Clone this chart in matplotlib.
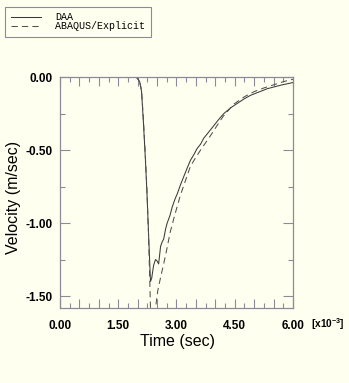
import matplotlib
matplotlib.use("Agg")
import matplotlib.pyplot as plt
from matplotlib.ticker import MultipleLocator, FuncFormatter

# Time in units of 1e-3 s, velocity in m/s
daa_t = [0, 1.5, 1.9, 1.98, 2.05, 2.1, 2.15, 2.2, 2.24, 2.28, 2.33, 2.36, 2.41,
         2.46, 2.5, 2.54, 2.59, 2.63, 2.67, 2.72, 2.76, 2.83, 2.89, 2.97, 3.02,
         3.1, 3.19, 3.28, 3.36, 3.45, 3.53, 3.62, 3.7, 3.79, 3.88, 4.0, 4.12,
         4.22, 4.4, 4.74, 4.91, 5.34, 5.7, 6.0]
daa_v = [0, 0, 0, -0.005, -0.03, -0.1, -0.32, -0.57, -0.80, -1.07, -1.40, -1.38,
         -1.29, -1.25, -1.26, -1.28, -1.16, -1.13, -1.11, -1.04, -1.00, -0.95,
         -0.89, -0.83, -0.80, -0.74, -0.68, -0.62, -0.57, -0.53, -0.49, -0.46,
         -0.42, -0.39, -0.36, -0.32, -0.28, -0.25, -0.21, -0.15, -0.125, -0.08,
         -0.055, -0.038]

abaqus_t = [0, 1.5, 1.9, 1.98, 2.05, 2.1, 2.15, 2.2, 2.24, 2.28, 2.33, 2.38,
            2.42, 2.46, 2.52, 2.6, 2.67, 2.75, 2.84, 2.95, 3.1, 3.23, 3.36, 3.5,
            3.62, 3.75, 3.88, 4.05, 4.2, 4.48, 4.75, 5.0, 5.25, 5.52, 5.75, 5.9,
            6.0]
abaqus_v = [0, 0, 0, -0.005, -0.03, -0.09, -0.30, -0.55, -0.78, -1.08, -1.58,
            -1.72, -1.72, -1.58, -1.46, -1.36, -1.28, -1.18, -1.06, -0.95, -0.81,
            -0.71, -0.61, -0.55, -0.50, -0.45, -0.40, -0.33, -0.27, -0.185,
            -0.135, -0.10, -0.075, -0.052, -0.032, -0.022, -0.015]

labels = ["DAA", "ABAQUS/Explicit"]

W, H = 349, 383
bg = "#fffff0"
frame = "#8a8a98"

fig = plt.figure(figsize=(W / 100, H / 100), dpi=100, facecolor=bg)
ax = fig.add_axes([60 / W, 1 - 308 / H, 233 / W, 231 / H], facecolor=bg)

l1, = ax.plot(daa_t, daa_v, color="#3a3a3a", lw=0.75, label=labels[0])
l2, = ax.plot(abaqus_t, abaqus_v, color="#505050", lw=0.75,
              dashes=(6, 4), label=labels[1])

ax.set_xlim(0, 6.0)
ax.set_ylim(-1.582, 0)

ax.xaxis.set_major_locator(MultipleLocator(0.5))
ax.xaxis.set_minor_locator(MultipleLocator(0.25))
ax.yaxis.set_major_locator(MultipleLocator(0.5))
ax.yaxis.set_minor_locator(MultipleLocator(0.25))


def xfmt(v, pos):
    r = round(v / 1.5, 6)
    if abs(r - round(r)) < 1e-6:
        return f"{v:.2f}"
    return ""


ax.xaxis.set_major_formatter(FuncFormatter(xfmt))
ax.yaxis.set_major_formatter(FuncFormatter(lambda v, p: f"{v:.2f}"))

for s in ax.spines.values():
    s.set_color(frame)
    s.set_linewidth(0.9)

ax.tick_params(which="both", direction="in", top=True, right=True,
               color=frame, width=0.8)
ax.tick_params(axis="x", which="major", length=6.5, pad=8.5)
ax.tick_params(axis="y", which="major", length=7.2, pad=5)
ax.tick_params(which="minor", length=3.6)

tick_font = dict(family="Liberation Sans", weight="bold", size=8.5)
for lab in ax.get_xticklabels() + ax.get_yticklabels():
    lab.set_fontproperties(matplotlib.font_manager.FontProperties(**tick_font))

ax.set_xlabel("Time (sec)", family="Liberation Sans", size=11.5)
ax.set_ylabel("Velocity (m/sec)", family="Liberation Sans", size=11.5)
ax.xaxis.set_label_coords((177 - 60) / 233, (308 - 334) / 231)
ax.yaxis.set_label_coords((21 - 60) / 233, (308 - 197) / 231)

plt.rcParams["mathtext.fontset"] = "custom"
plt.rcParams["mathtext.rm"] = "Liberation Sans:bold"
plt.rcParams["mathtext.it"] = "Liberation Sans:bold"
fig.text(311 / W, 1 - 324 / H, r"[x10$^{\mathrm{-3}}$]", ha="left", va="center",
         family="Liberation Sans", weight="bold", size=7.3)

leg = fig.legend(handles=[l1, l2], labels=labels, loc="upper left",
                 bbox_to_anchor=(5 / W, 1 - 7 / H),
                 prop=dict(family="Liberation Mono", size=7.2),
                 frameon=True, fancybox=False, edgecolor=frame,
                 facecolor=bg, framealpha=1, handlelength=3.0,
                 handletextpad=1.45, borderpad=0.55, labelspacing=-0.15,
                 borderaxespad=0)
leg.get_frame().set_linewidth(0.8)

fig.savefig("out.png", dpi=100, facecolor=bg)
